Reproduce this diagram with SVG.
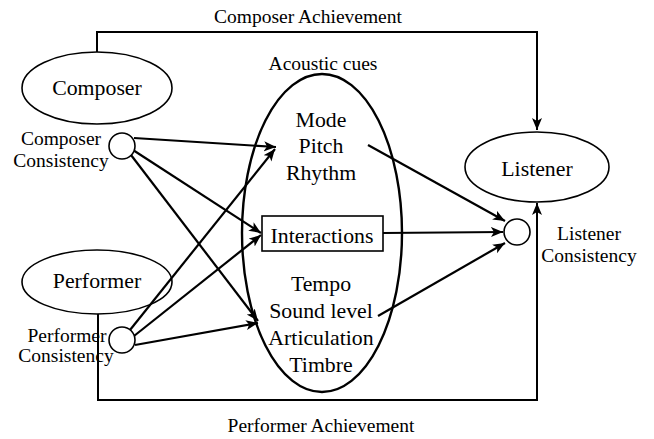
<svg xmlns="http://www.w3.org/2000/svg" width="654" height="439" viewBox="0 0 654 439">
<defs>
<marker id="ah" markerUnits="userSpaceOnUse" markerWidth="14" markerHeight="12" refX="12" refY="5" orient="auto">
<path d="M0,0 L12,5 L0,10 L3,5 Z" fill="#000"/>
</marker>
<style>
text{font-family:"Liberation Serif","Times New Roman",serif;fill:#000;text-anchor:middle}
.big{font-size:21.8px}
.sm{font-size:19.5px}
.node{fill:#fff;stroke:#000;stroke-width:1.6}
.conn{fill:none;stroke:#000;stroke-width:2}
.arr{fill:none;stroke:#000;stroke-width:2.2;marker-end:url(#ah)}
</style>
</defs>
<rect width="654" height="439" fill="#fff"/>

<g id="acoustic-cues">
<ellipse cx="322" cy="233" rx="80" ry="159" fill="none" stroke="#000" stroke-width="2.4"/>
<text class="sm" x="323" y="70">Acoustic cues</text>
<text class="big" x="321" y="127">Mode</text>
<text class="big" x="321" y="153">Pitch</text>
<text class="big" x="321" y="180">Rhythm</text>
<text class="big" x="321" y="291">Tempo</text>
<text class="big" x="321" y="318">Sound level</text>
<text class="big" x="321" y="345">Articulation</text>
<text class="big" x="321" y="372">Timbre</text>
</g>

<g id="composer">
<ellipse class="node" cx="97" cy="88" rx="75" ry="36"/>
<text class="big" x="97" y="95">Composer</text>
</g>

<g id="performer">
<ellipse class="node" cx="97" cy="282" rx="75" ry="32"/>
<text class="big" x="97" y="288">Performer</text>
</g>

<g id="listener">
<ellipse class="node" cx="537" cy="167" rx="72" ry="35"/>
<text class="big" x="537" y="176">Listener</text>
</g>

<g id="connectors">
<polyline class="conn" points="97,52 97,32 537,32 537,130" marker-end="url(#ah)"/>
<polyline class="conn" points="98,314 98,400 537,400 537,203" marker-end="url(#ah)"/>
<line class="arr" x1="134" y1="138" x2="276" y2="147"/>
<line class="arr" x1="133" y1="150" x2="261" y2="233"/>
<line class="arr" x1="131" y1="155" x2="258" y2="321"/>
<line class="arr" x1="130" y1="330" x2="275" y2="149"/>
<line class="arr" x1="134" y1="336" x2="261" y2="235"/>
<line class="arr" x1="135" y1="345" x2="258" y2="323"/>
<line class="arr" x1="368" y1="145" x2="505" y2="221"/>
<line class="arr" x1="383" y1="233" x2="503" y2="232"/>
<line class="arr" x1="378" y1="316" x2="505" y2="243"/>
</g>

<g id="interactions">
<rect x="262" y="216" width="121" height="35" fill="#fff" stroke="#000" stroke-width="1.6"/>
<text class="big" x="322" y="243">Interactions</text>
</g>

<g id="composer-consistency">
<circle class="node" cx="122" cy="146" r="13"/>
<text class="sm" x="61" y="145">Composer</text>
<text class="sm" x="61" y="167">Consistency</text>
</g>

<g id="performer-consistency">
<circle class="node" cx="122" cy="340" r="13"/>
<text class="sm" x="67" y="342">Performer</text>
<text class="sm" x="66" y="362">Consistency</text>
</g>

<g id="listener-consistency">
<circle class="node" cx="517" cy="232" r="13"/>
<text class="sm" x="589" y="240">Listener</text>
<text class="sm" x="589" y="262">Consistency</text>
</g>

<g id="labels">
<text class="sm" x="308" y="23">Composer Achievement</text>
<text class="sm" x="321" y="432">Performer Achievement</text>
</g>
</svg>
